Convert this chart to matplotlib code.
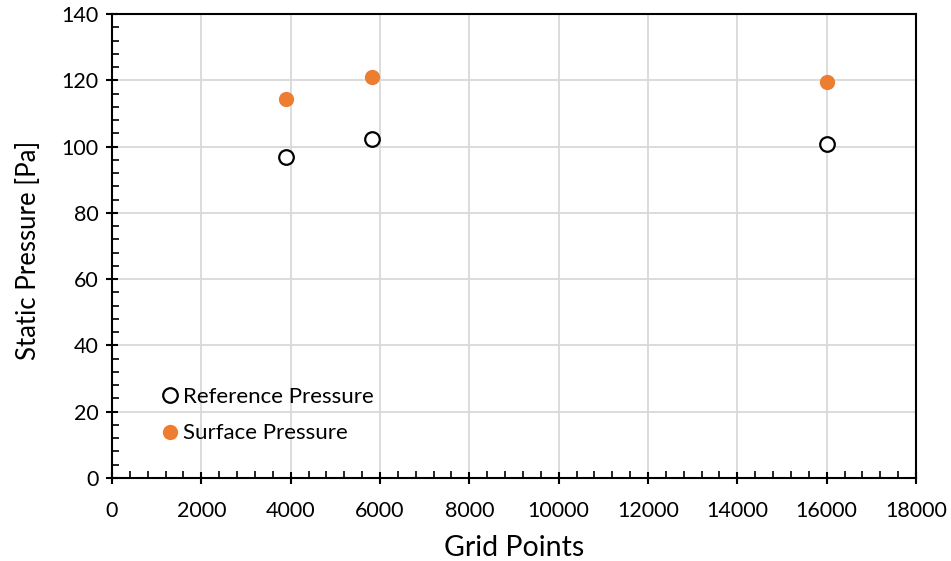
import matplotlib
matplotlib.use("Agg")
import matplotlib.pyplot as plt
from matplotlib.ticker import MultipleLocator

plt.rcParams['font.family'] = ['Lato', 'DejaVu Sans']

grid_points = [3900, 5830, 16000]
reference_pressure = [97.0, 102.3, 100.8]
surface_pressure = [114.5, 120.9, 119.4]

fig = plt.figure(figsize=(9.51, 5.61), dpi=100)
ax = fig.add_axes([0.1178, 0.148, 0.9632 - 0.1178, 0.975 - 0.148])

ax.plot(grid_points, reference_pressure, linestyle='none', marker='o',
        markersize=10.5, markerfacecolor='white', markeredgecolor='black',
        markeredgewidth=1.6, label='Reference Pressure', zorder=3)
ax.plot(grid_points, surface_pressure, linestyle='none', marker='o',
        markersize=11, markerfacecolor='#ED7D31', markeredgecolor='#ED7D31',
        markeredgewidth=0, label='Surface Pressure', zorder=3)

ax.set_xlim(0, 18000)
ax.set_ylim(0, 140)
ax.xaxis.set_major_locator(MultipleLocator(2000))
ax.xaxis.set_minor_locator(MultipleLocator(400))
ax.yaxis.set_major_locator(MultipleLocator(20))
ax.yaxis.set_minor_locator(MultipleLocator(4))

ax.grid(True, which='major', color='#D9D9D9', linewidth=1.3, zorder=0)
ax.set_axisbelow(True)

for s in ax.spines.values():
    s.set_color('black')
    s.set_linewidth(1.5)

ax.tick_params(which='major', direction='inout', length=9, width=1.5,
               labelsize=15.5, colors='black', pad=5)
ax.tick_params(which='minor', direction='in', length=5, width=1.2)
ax.tick_params(axis='x', which='major', pad=12)

ax.set_xlabel('Grid Points', fontsize=20.5, labelpad=10)
ax.set_ylabel('Static Pressure [Pa]', fontsize=18.5)
ax.yaxis.set_label_coords(-0.088, 0.49)

leg = ax.legend(loc='upper left', bbox_to_anchor=(161 / 951, 1 - 387 / 561),
                bbox_transform=fig.transFigure, frameon=False, fontsize=16,
                handlelength=0.8, handletextpad=0.19, borderpad=0,
                borderaxespad=0, labelspacing=0.74)

fig.savefig('out.png', dpi=100)
